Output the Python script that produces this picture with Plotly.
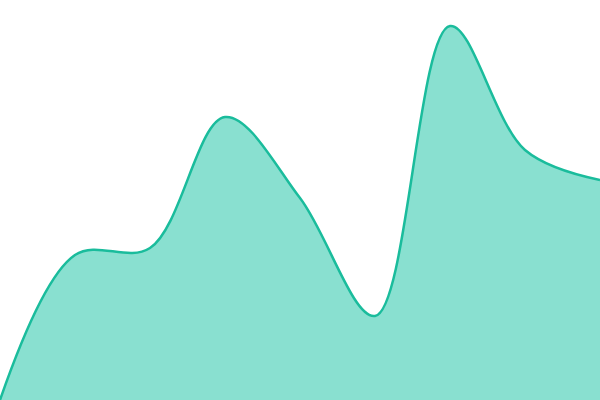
import plotly.graph_objects as go

# evenly spaced samples (0 = bottom edge)
steps = [0, 1, 2, 3, 4, 5, 6, 7, 8]
values = [0, 145, 152, 283, 202, 84, 374, 250, 220]

fig = go.Figure()
fig.add_trace(
    go.Scatter(
        x=steps,
        y=values,
        mode="lines",
        line=dict(color="#1abc9c", width=2.5, shape="spline", smoothing=1),
        fill="tozeroy",
        fillcolor="rgb(137,224,208)",
        hoverinfo="skip",
    )
)
fig.update_layout(
    width=600,
    height=400,
    margin=dict(l=0, r=0, t=0, b=0),
    plot_bgcolor="white",
    paper_bgcolor="white",
    showlegend=False,
)
fig.update_xaxes(visible=False, range=[0, 8])
fig.update_yaxes(visible=False, range=[0, 400])
# drop the default page margin so the chart sits flush in the window
fig.write_html(
    "out.html",
    config={"displayModeBar": False},
    post_script="document.body.style.margin='0';",
)
